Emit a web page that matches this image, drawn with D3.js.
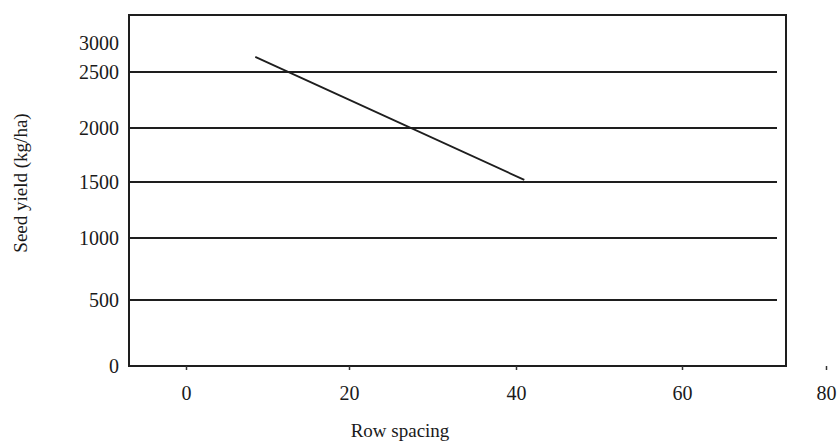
<!DOCTYPE html>
<html>
<head>
<meta charset="utf-8">
<script src="https://cdn.jsdelivr.net/npm/d3@7"></script>
<style>
    body { margin: 0; background: #fff; }
    text { font-family: 'Liberation Serif', 'Times New Roman', serif; fill: #1a1a1a; }
</style>
</head>
<body>
<svg id="chart" width="837" height="441"></svg>
<script>
const yTicks = [0, 500, 1000, 1500, 2000, 2500, 3000];
const gridValues = [500, 1000, 1500, 2000, 2500];
const xTicks = [0, 20, 40, 60, 80];
const rowSpacing = [8.5, 41];          // cm
const seedYield = [2760, 1520];        // kg/ha

const box = {left: 129, right: 786, top: 15, bottom: 366};

// the printed axes are not evenly spaced, so map each tick to where it sits
let x = d3.scaleLinear()
    .domain(xTicks)
    .range([186, 349, 516, 682, 826]);

let y = d3.scaleLinear()
    .domain(yTicks)
    .range([366, 300, 238, 182, 128, 72, 43]);

let svg = d3.select('#chart');

// grid lines stop a bit short of the right border
svg.append('g')
    .selectAll('line')
    .data(gridValues)
    .join('line')
    .attr('x1', box.left)
    .attr('x2', 777)
    .attr('y1', d => y(d))
    .attr('y2', d => y(d))
    .attr('stroke', '#1e1e1e')
    .attr('stroke-width', 2);

svg.append('rect')
    .attr('x', box.left)
    .attr('y', box.top)
    .attr('width', box.right - box.left)
    .attr('height', box.bottom - box.top)
    .attr('fill', 'none')
    .attr('stroke', '#1e1e1e')
    .attr('stroke-width', 2);

let yAxis = svg.append('g')
    .attr('transform', `translate(${box.left},0)`)
    .call(d3.axisLeft(y).tickValues(yTicks).tickFormat(d3.format('d')).tickSize(0).tickPadding(10));
yAxis.select('.domain').remove();
yAxis.selectAll('text').attr('font-size', 20).style('font-family', null);

let xAxis = svg.append('g')
    .attr('transform', `translate(0,${box.bottom})`)
    .call(d3.axisBottom(x).tickValues(xTicks).tickFormat(d3.format('d')).tickSize(4).tickPadding(16));
xAxis.select('.domain').remove();
xAxis.selectAll('line').attr('stroke', '#333').attr('stroke-width', 1.5);
xAxis.selectAll('text').attr('font-size', 20).style('font-family', null);

let line = d3.line()
    .x(d => x(d[0]))
    .y(d => y(d[1]));

svg.append('path')
    .datum(d3.zip(rowSpacing, seedYield))
    .attr('d', line)
    .attr('fill', 'none')
    .attr('stroke', '#1e1e1e')
    .attr('stroke-width', 1.8);

svg.append('text')
    .attr('transform', 'translate(27,183) rotate(-90)')
    .attr('text-anchor', 'middle')
    .attr('font-size', 19)
    .text('Seed yield (kg/ha)');

svg.append('text')
    .attr('x', 400)
    .attr('y', 437)
    .attr('text-anchor', 'middle')
    .attr('font-size', 19)
    .text('Row spacing');
</script>
</body>
</html>
